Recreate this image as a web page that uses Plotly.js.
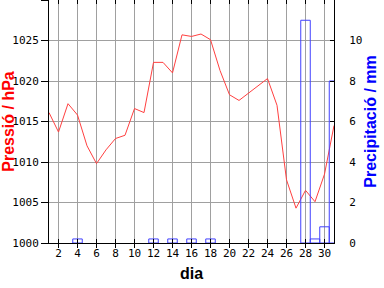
<!DOCTYPE html>
<html>
<head>
<meta charset="utf-8">
<script src="https://cdn.plot.ly/plotly-3.0.1.min.js"></script>
<style>html,body{margin:0;padding:0;background:#fff;}#chart{width:384px;height:288px;}</style>
</head>
<body>
<div id="chart"></div>
<script>
// Daily pressure (hPa)
const days = [1,2,3,4,5,6,7,8,9,10,11,12,13,14,15,16,17,18,19,20,21,22,23,24,25,26,27,28,29,30,31];
const pressure = [1016.1,1013.7,1017.2,1015.8,1012.0,1009.8,1011.5,1012.9,1013.3,1016.6,1016.1,1022.3,1022.3,1021.0,1025.7,1025.5,1025.8,1025.1,1021.3,1018.3,1017.6,1018.5,1019.3,1020.3,1017.0,1007.8,1004.3,1006.5,1005.1,1008.5,1014.5];
// Precipitation (mm)
const precipDays = [4,12,14,16,18,28,29,30,31];
const precip = [0.2,0.2,0.2,0.2,0.2,11.0,0.2,0.8,8.0];
const xTicks = [2,4,6,8,10,12,14,16,18,20,22,24,26,28,30];

const tickFont = {family: 'DejaVu Sans Mono', size: 11, color: '#000'};
const titleFont = {family: 'Liberation Sans', size: 16, weight: 'bold'};

const traces = [
  {
    type: 'bar', x: precipDays, y: precip, yaxis: 'y2', width: 1,
    marker: {color: 'rgba(0,0,0,0)', line: {color: '#4040ff', width: 1}},
    hoverinfo: 'skip'
  },
  {
    type: 'scatter', mode: 'lines', x: days, y: pressure,
    line: {color: '#ff4040', width: 1}, hoverinfo: 'skip'
  }
];

const layout = {
  width: 384, height: 288,
  margin: {l: 49, r: 50, t: 0, b: 45, pad: 0},
  paper_bgcolor: '#fff', plot_bgcolor: '#fff',
  showlegend: false, bargap: 0,
  xaxis: {
    range: [1, 31], tickvals: xTicks, ticks: 'inside', ticklen: 4, tickcolor: '#000',
    showline: true, linecolor: '#000', linewidth: 1, mirror: 'allticks',
    showgrid: true, gridcolor: '#a0a0a0', gridwidth: 1, zeroline: false,
    tickfont: tickFont,
    title: {text: 'dia', font: Object.assign({color: '#000'}, titleFont), standoff: 8}
  },
  yaxis: {
    range: [1000, 1030], dtick: 5, ticks: 'outside', ticklen: 7, tickcolor: '#000',
    showline: true, linecolor: '#000', linewidth: 1,
    showgrid: true, gridcolor: '#a0a0a0', gridwidth: 1, zeroline: false,
    tickfont: tickFont, ticklabelstandoff: 0,
    title: {text: 'Pressió / hPa', font: Object.assign({color: '#ff0000'}, titleFont), standoff: 0}
  },
  yaxis2: {
    range: [0, 12], dtick: 2, side: 'right', overlaying: 'y',
    ticks: 'inside', ticklen: 4, tickcolor: '#000',
    showline: true, linecolor: '#000', linewidth: 1,
    showgrid: false, zeroline: false,
    tickfont: tickFont, ticklabelstandoff: 12,
    title: {text: 'Precipitació / mm', font: Object.assign({color: '#0000ff'}, titleFont), standoff: 3}
  }
};

Plotly.newPlot('chart', traces, layout, {staticPlot: true, displayModeBar: false});
</script>
</body>
</html>
